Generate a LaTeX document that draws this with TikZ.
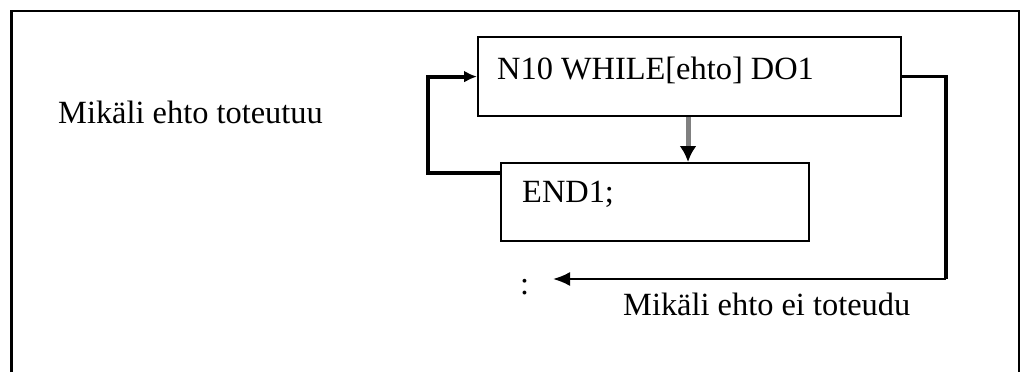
\documentclass[tikz,border=0pt]{standalone}
\usepackage{fontspec}
\setmainfont{Liberation Serif}
\usetikzlibrary{arrows.meta}
\begin{document}
\begin{tikzpicture}[x=1bp,y=-1bp,
  lbl/.style={inner sep=0pt,anchor=base west,font=\fontsize{32.4bp}{38bp}\selectfont},
  stepbox/.style={draw=black,line width=2.2bp,inner sep=0pt},
  conn/.style={draw=black,line width=4bp},
  thinconn/.style={draw=black,line width=2bp},
  tipL/.style={-{Latex[length=13bp,width=12bp]}}
]
\useasboundingbox (0,0) rectangle (1022,372);
\fill[white] (0,0) rectangle (1022,372);
% frame
\draw[line width=3.5bp] (11.5,372) -- (11.5,11);
\draw[line width=2.5bp] (10,11) -- (1019,11);
\draw[line width=2bp] (1019,10) -- (1019,372);
% boxes
\node[stepbox,minimum width=423bp,minimum height=79bp,anchor=north west] (b1) at (477,36) {};
\node[stepbox,minimum width=308bp,minimum height=78bp,anchor=north west] (b2) at (500,162) {};
% texts
\node[lbl] (t0) at (58,123) {Mikäli ehto toteutuu};
\node[lbl] (t1) at (497,79) {N10 WHILE[ehto] DO1};
\node[lbl] (t2) at (522,202) {END1;};
\node[lbl] (t3) at (623,315) {Mikäli ehto ei toteudu};
\node[lbl] (col) at (520,294) {:};
% coordinates
\coordinate (c1) at (946,279);
\coordinate (c2) at (553,279);
% grey arrow
\draw[draw=black!50,line width=5bp,-{Latex[length=16bp,width=17bp,color=black]}]
  (b1.south -| 688,0) -- (b2.north -| 688,0);
% loop back
\draw[conn,tipL] ([yshift=-11bp]b2.north west) -- ++(-72,0) |- (b1.west);
% exit
\draw[line width=3.5bp] (b1.east) -| (c1);
\draw[thinconn,-{Latex[length=17bp,width=14bp]}] (c1) -- (c2);
\end{tikzpicture}
\end{document}
